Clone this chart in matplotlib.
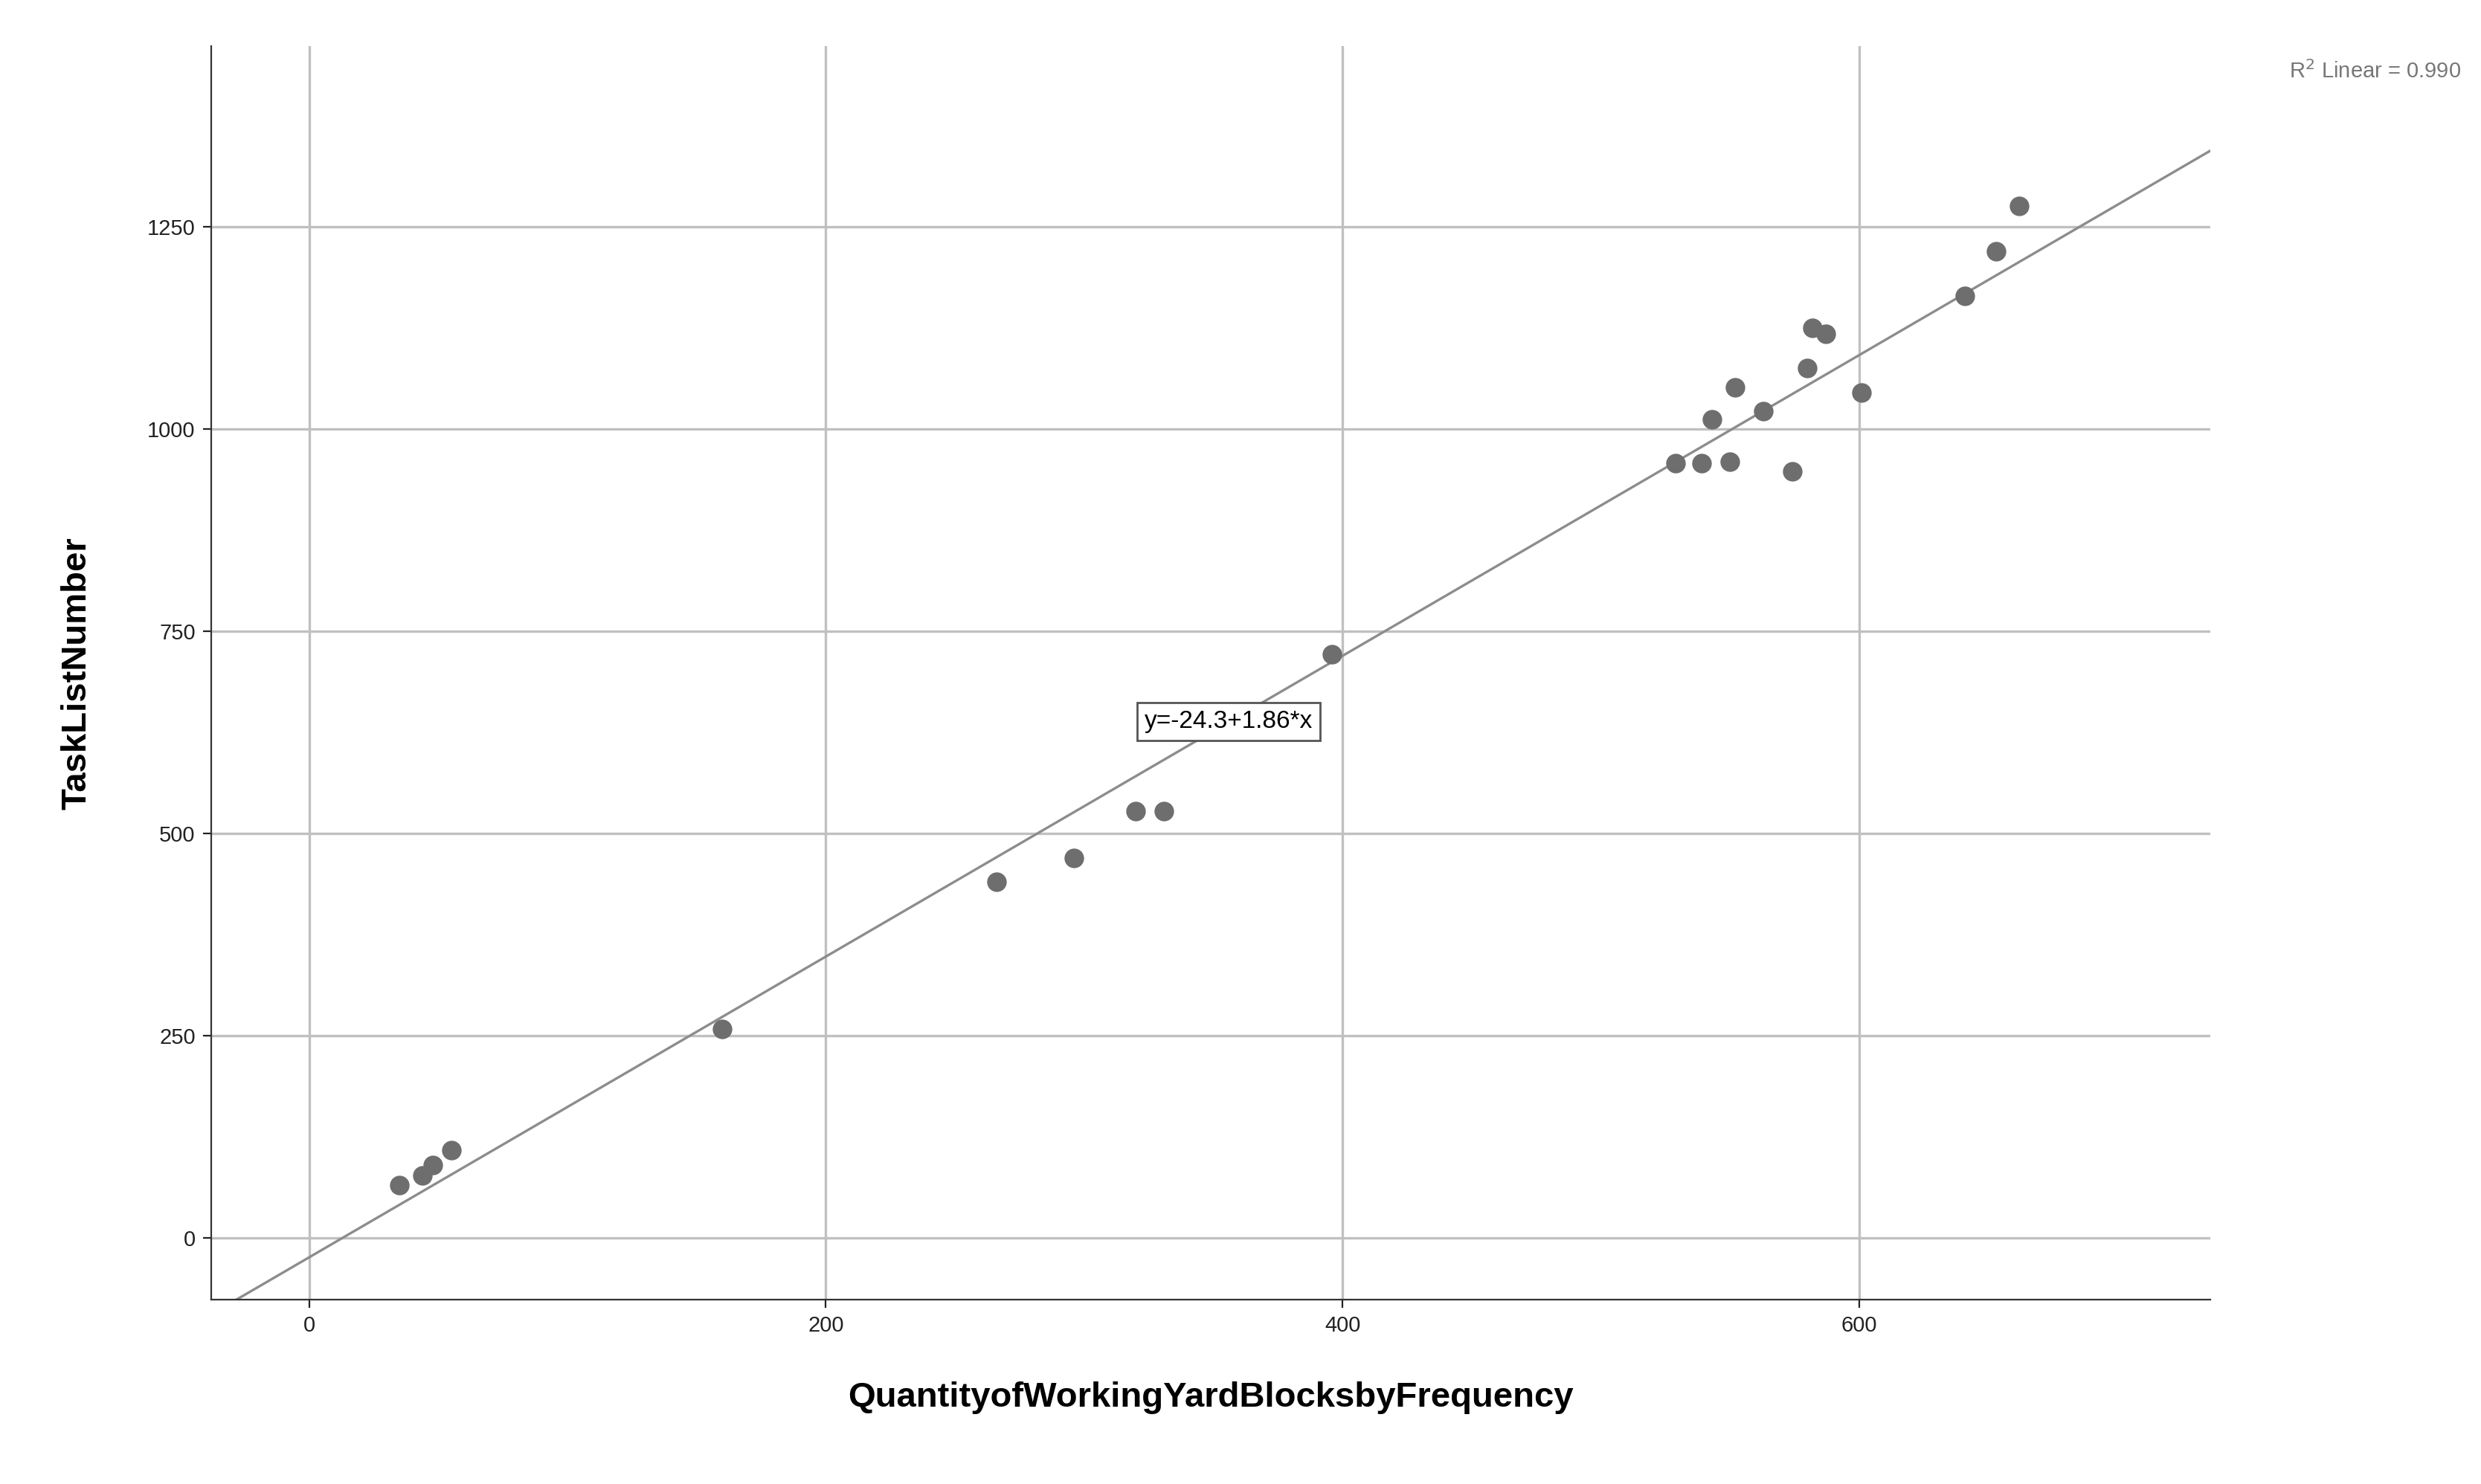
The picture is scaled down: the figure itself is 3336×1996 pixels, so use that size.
import matplotlib
matplotlib.use("Agg")
import matplotlib.pyplot as plt
import numpy as np

plt.rcParams['font.family'] = ['Liberation Sans', 'DejaVu Sans']

x_vals = [35, 44, 48, 55, 160, 266, 296, 320, 331, 396, 529, 539, 543, 550, 552, 563, 574, 580, 582, 587, 601, 641, 653, 662]
y_vals = [65, 77, 90, 108, 258, 440, 470, 528, 528, 722, 958, 958, 1012, 960, 1052, 1022, 948, 1076, 1125, 1118, 1045, 1165, 1220, 1276]
intercept, slope = -24.3, 1.86
x_ticks = [0, 200, 400, 600]
y_ticks = [0, 250, 500, 750, 1000, 1250]

fig = plt.figure(figsize=(16.68, 9.98), dpi=200)
ax = fig.add_axes([0.085, 0.124, 0.806, 0.845])
ax.set_xlim(-38, 736)
ax.set_ylim(-77, 1474)
ax.set_xticks(x_ticks)
ax.set_yticks(y_ticks)
ax.grid(True, color='#c0c0c0', linewidth=1.2)
ax.set_axisbelow(True)
for s in ['top', 'right']:
    ax.spines[s].set_visible(False)
for s in ['left', 'bottom']:
    ax.spines[s].set_color('#333333')
ax.tick_params(labelsize=10.5, colors='#222222', length=4)
xl = np.array([-38, 736])
ax.plot(xl, intercept + slope * xl, color='#8c8c8c', linewidth=1.2, zorder=2)
ax.scatter(x_vals, y_vals, s=90, color='#6e6e6e', zorder=3, linewidths=0)
ax.text(356, 638, 'y=-24.3+1.86*x', fontsize=12, ha='center', va='center',
        bbox=dict(facecolor='white', edgecolor='#555555', boxstyle='square,pad=0.3'), zorder=4)
ax.set_xlabel('QuantityofWorkingYardBlocksbyFrequency', fontsize=17, fontweight='bold', labelpad=22)
ax.set_ylabel('TaskListNumber', fontsize=17, fontweight='bold', labelpad=26)
fig.text(0.992, 0.952, r'R$^2$ Linear = 0.990', ha='right', va='center', fontsize=10.5, color='#777777')
fig.savefig('out.png', dpi=200)
